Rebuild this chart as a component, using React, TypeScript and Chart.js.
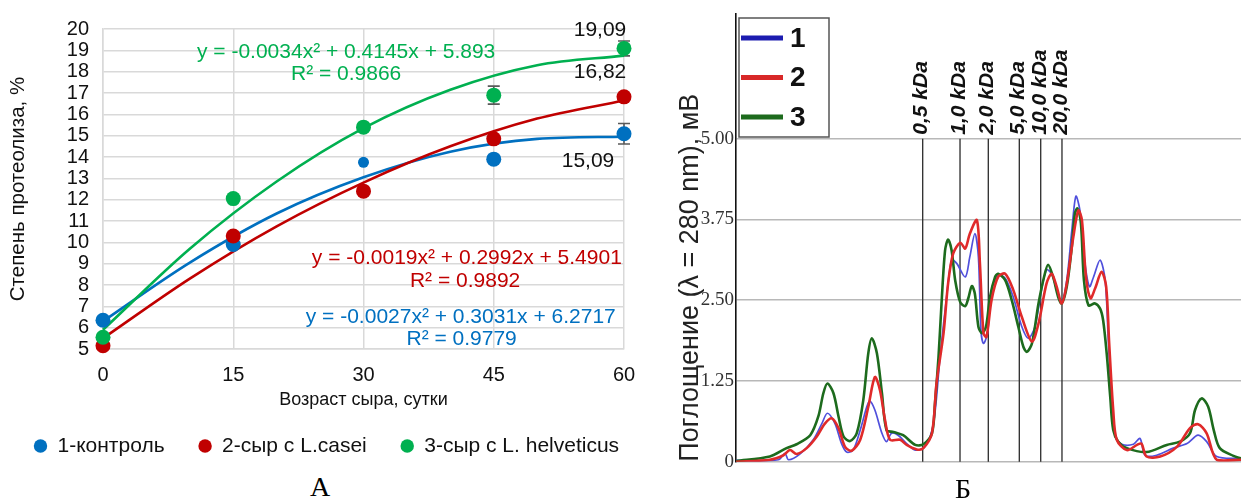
import React, { useEffect, useRef } from "react";
import { Chart, registerables } from "chart.js";

Chart.register(...registerables);
Chart.defaults.font.family = '"Liberation Sans", Arial, sans-serif';

// ---------- Chart A: degree of proteolysis ----------
const DAYS = [0, 15, 30, 45, 60];
const CONTROL = [6.35, 9.9, 13.75, 13.9, 15.09];
const CASEI = [5.15, 10.3, 12.4, 14.85, 16.82];
const HELVETICUS = [5.55, 12.05, 15.4, 16.9, 19.09];
const CONTROL_ERR = [0, 0, 0, 0, 0.48];
const CASEI_ERR = [0, 0, 0, 0, 0];
const HELVETICUS_ERR = [0, 0, 0, 0.42, 0.35];
const TREND_X = [0, 10, 20, 30, 40, 50, 60];
const CONTROL_TREND = [6.3, 9.05, 11.35, 13.05, 14.25, 14.85, 14.95];
const CASEI_TREND = [5.5, 8.3, 10.75, 12.8, 14.5, 15.8, 16.65];
const HELVETICUS_TREND = [5.9, 9.7, 12.85, 15.35, 17.15, 18.3, 18.75];
const SERIES_A = ["1-контроль", "2-сыр с L.casei", "3-сыр с L. helveticus"];
const END_LABELS = ["15,09", "16,82", "19,09"];
const EQUATIONS = [
  "y = -0.0027x² + 0.3031x + 6.2717",
  "y = -0.0019x² + 0.2992x + 5.4901",
  "y = -0.0034x² + 0.4145x + 5.893",
];
const R2_LABELS = ["R² = 0.9779", "R² = 0.9892", "R² = 0.9866"];
const X_TITLE_A = "Возраст сыра, сутки";
const Y_TITLE_A = "Степень протеолиза, %";

// ---------- Chart B: chromatogram ----------
const SERIES_B = ["1", "2", "3"];
const B_Y_TICKS = [0, 1.25, 2.5, 3.75, 5];
const B_Y_TICK_LABELS = ["0", "1.25", "2.50", "3.75", "5.00"];
const KDA_LABELS = ["0,5 kDa", "1,0 kDa", "2,0 kDa", "5,0 kDa", "10,0 kDa", "20,0 kDa"];
const KDA_X = [36.97, 44.36, 49.96, 56.1, 60.34, 64.55];
const Y_TITLE_B = "Поглощение (λ = 280 nm), мВ";

const CHROM_1: [number, number][] = [
  [0, 0.02], [8.4, 0.03], [9.7, 0.13], [10.4, 0.03], [12.7, 0.12], [15.3, 0.34], [17.0, 0.59], [18.1, 0.75],
  [19.6, 0.59], [20.9, 0.28], [21.9, 0.15], [23.2, 0.18], [24.6, 0.49], [25.9, 0.85], [26.5, 0.94], [27.5, 0.8],
  [28.9, 0.44], [29.8, 0.31], [30.8, 0.44], [32.1, 0.41], [33.8, 0.28], [35.5, 0.18], [37.4, 0.23], [39.1, 0.59],
  [40.4, 1.62], [41.7, 2.55], [42.7, 3.12], [43.7, 3.07], [45.4, 2.86], [46.3, 3.17], [47.3, 3.53], [48.0, 3.17],
  [48.5, 2.04], [49.0, 1.83], [49.8, 1.99], [50.6, 2.66], [51.9, 2.89], [53.3, 2.84], [54.9, 2.55], [56.6, 2.09],
  [57.9, 1.91], [59.2, 2.09], [60.5, 2.66], [61.5, 2.97], [62.5, 2.91], [63.5, 2.66], [64.5, 2.47], [65.5, 2.81],
  [66.5, 3.58], [67.3, 4.11], [68.1, 3.89], [69.1, 3.07], [70.0, 2.71], [70.8, 2.86], [72.1, 3.12], [73.1, 2.81],
  [73.7, 1.93], [74.4, 0.9], [75.1, 0.39], [76.4, 0.27], [78.7, 0.27], [80.0, 0.36], [81.0, 0.1], [83.3, 0.1],
  [86.6, 0.21], [89.3, 0.28], [91.5, 0.41], [93.2, 0.31], [95.2, 0.08], [100, 0.05],
];
const CHROM_2: [number, number][] = [
  [0, 0.0], [6.7, 0.03], [9.4, 0.1], [10.7, 0.18], [12.0, 0.12], [14.0, 0.21], [16.0, 0.39], [17.6, 0.59],
  [19.0, 0.67], [20.3, 0.52], [21.6, 0.23], [22.9, 0.17], [24.6, 0.34], [26.2, 0.85], [27.5, 1.31], [28.5, 1.11],
  [29.5, 0.65], [30.5, 0.34], [32.5, 0.34], [33.8, 0.26], [35.8, 0.19], [37.1, 0.21], [38.8, 0.44], [39.7, 1.21],
  [41.1, 1.99], [42.0, 2.76], [43.0, 3.22], [44.4, 3.39], [45.4, 3.3], [46.3, 3.53], [47.7, 3.74], [48.3, 3.07],
  [49.0, 1.99], [49.6, 1.93], [50.6, 2.5], [51.9, 2.86], [53.3, 2.91], [54.9, 2.66], [56.6, 2.24], [58.6, 1.86],
  [59.9, 2.14], [61.5, 2.76], [62.5, 2.91], [63.5, 2.71], [64.5, 2.45], [65.5, 2.76], [66.8, 3.48], [67.8, 3.89],
  [68.5, 3.74], [69.3, 2.86], [70.2, 2.53], [71.1, 2.68], [72.4, 2.94], [73.3, 2.71], [73.9, 1.83], [74.7, 0.8],
  [75.4, 0.34], [77.4, 0.18], [79.4, 0.26], [80.3, 0.28], [81.3, 0.08], [84.0, 0.08], [87.3, 0.23], [89.9, 0.52],
  [91.5, 0.58], [93.2, 0.44], [95.2, 0.03], [100, 0.03],
];
const CHROM_3: [number, number][] = [
  [0, 0.01], [6.7, 0.08], [10.0, 0.21], [12.0, 0.27], [14.7, 0.41], [16.3, 0.7], [17.3, 1.06], [18.1, 1.21],
  [19.3, 1.06], [20.3, 0.7], [21.3, 0.39], [22.6, 0.32], [23.9, 0.44], [25.2, 0.95], [26.2, 1.68], [26.9, 1.91],
  [27.9, 1.68], [28.9, 1.06], [29.8, 0.49], [31.2, 0.46], [33.1, 0.41], [35.5, 0.26], [37.1, 0.27], [38.8, 0.44],
  [39.4, 0.9], [40.1, 1.62], [40.7, 2.45], [41.4, 3.27], [42.0, 3.44], [42.7, 3.27], [43.4, 2.81], [44.4, 2.47],
  [45.4, 2.41], [46.0, 2.53], [46.7, 2.72], [47.3, 2.6], [48.0, 2.09], [48.7, 1.99], [49.5, 2.09], [50.3, 2.55],
  [51.3, 2.86], [51.9, 2.91], [53.3, 2.81], [54.6, 2.5], [55.9, 2.09], [56.9, 1.78], [57.6, 1.7], [58.6, 1.83],
  [59.9, 2.45], [61.0, 2.86], [61.8, 3.05], [62.8, 2.86], [63.8, 2.55], [64.5, 2.45], [65.5, 2.71], [66.5, 3.33],
  [67.1, 3.84], [67.6, 3.92], [68.3, 3.69], [68.9, 2.81], [69.8, 2.42], [71.1, 2.45], [72.1, 2.37], [72.7, 2.19],
  [73.4, 1.68], [74.1, 1.01], [74.7, 0.49], [75.7, 0.31], [77.4, 0.21], [81.3, 0.15], [85.3, 0.26], [87.9, 0.31],
  [89.9, 0.44], [90.9, 0.8], [92.2, 0.98], [93.5, 0.85], [94.6, 0.49], [95.8, 0.21], [98.5, 0.09], [100, 0.05],
];

const COLORS_A = ["#0070C0", "#C00000", "#00B050"];
const COLORS_B_LINE = ["#5050dc", "#e02a2a", "#1d6b1d"];
const COLORS_B_LEGEND = ["#1c1cb0", "#d82828", "#1d6b1d"];
const SANS = '"Liberation Sans", Arial, sans-serif';
const SERIF = '"Liberation Serif", "Times New Roman", serif';

function ChartA() {
  const ref = useRef<HTMLCanvasElement>(null);
  useEffect(() => {
    if (!ref.current) return;
    const values = [CONTROL, CASEI, HELVETICUS];
    const errs = [CONTROL_ERR, CASEI_ERR, HELVETICUS_ERR];
    const trends = [CONTROL_TREND, CASEI_TREND, HELVETICUS_TREND];
    const order = [2, 1, 0];
    const pointSets = order.map((i) => ({
      label: SERIES_A[i],
      data: DAYS.map((d, j) => ({ x: d, y: values[i][j] })),
      backgroundColor: COLORS_A[i],
      borderColor: COLORS_A[i],
      pointRadius: i === 0 ? [7.5, 7.5, 5.5, 7.5, 7.5] : 7.5,
      pointBorderWidth: 0,
      pointStyle: "circle",
      showLine: false,
      clip: false,
      errors: errs[i],
    }));
    const trendSets = order.map((i) => ({
      label: "trend " + SERIES_A[i],
      data: TREND_X.map((x, j) => ({ x, y: trends[i][j] })),
      borderColor: COLORS_A[i],
      backgroundColor: COLORS_A[i],
      borderWidth: 2.6,
      pointRadius: 0,
      showLine: true,
      clip: false,
      cubicInterpolationMode: "monotone",
      fill: false,
    }));

    const errorBars = {
      id: "errorBars",
      beforeDatasetsDraw(chart: any) {
        const { ctx, scales } = chart;
        const x = scales.x, y = scales.y;
        ctx.save();
        ctx.strokeStyle = "#5a5a5a";
        ctx.lineWidth = 1.6;
        chart.data.datasets.forEach((ds: any) => {
          if (!ds.errors) return;
          ds.data.forEach((p: any, j: number) => {
            const e = ds.errors[j];
            if (!e) return;
            const px = x.getPixelForValue(p.x);
            const t = y.getPixelForValue(p.y + e);
            const b = y.getPixelForValue(p.y - e);
            ctx.beginPath();
            ctx.moveTo(px, t); ctx.lineTo(px, b);
            ctx.moveTo(px - 6, t); ctx.lineTo(px + 6, t);
            ctx.moveTo(px - 6, b); ctx.lineTo(px + 6, b);
            ctx.stroke();
          });
        });
        ctx.restore();
      },
    };

    const annotations = {
      id: "annotations",
      afterDatasetsDraw(chart: any) {
        const { ctx, scales } = chart;
        const x = scales.x, y = scales.y;
        ctx.save();
        ctx.textAlign = "center";
        ctx.textBaseline = "middle";
        ctx.font = "21px " + SANS;
        ctx.fillStyle = "#111";
        const offs = [[-36, 27], [-24, -25], [-24, -18]];
        values.forEach((s, i) => {
          const last = s.length - 1;
          ctx.fillText(END_LABELS[i], x.getPixelForValue(DAYS[last]) + offs[i][0], y.getPixelForValue(s[last]) + offs[i][1]);
        });
        const eqPos = [[41.2, 6.5, 41.3, 5.47], [41.9, 9.26, 41.7, 8.18], [28.0, 18.91, 28.0, 17.88]];
        EQUATIONS.forEach((t, i) => {
          ctx.fillStyle = COLORS_A[i];
          const p = eqPos[i];
          ctx.fillText(t, x.getPixelForValue(p[0]), y.getPixelForValue(p[1]));
          ctx.fillText(R2_LABELS[i], x.getPixelForValue(p[2]), y.getPixelForValue(p[3]));
        });
        ctx.restore();
      },
    };

    const chart = new Chart(ref.current, {
      type: "scatter",
      data: { datasets: [...pointSets, ...trendSets] as any },
      plugins: [errorBars, annotations],
      options: {
        animation: false,
        responsive: false,
        maintainAspectRatio: false,
        layout: { padding: { top: 29, right: 0, bottom: 3.5, left: 0 } },
        plugins: {
          tooltip: { enabled: false },
          legend: {
            position: "bottom",
            align: "start",
            labels: {
              usePointStyle: true,
              pointStyle: "circle",
              boxWidth: 13,
              boxHeight: 9.5,
              padding: 34,
              color: "#111",
              font: { size: 21, family: SANS },
              filter: (item: any) => item.datasetIndex < 3,
              sort: (a: any, b: any) => b.datasetIndex - a.datasetIndex,
            },
          },
        },
        scales: {
          x: {
            type: "linear",
            min: 0,
            max: 60,
            afterFit: (s: any) => { s.height = 52.5; },
            ticks: { stepSize: 15, color: "#111", font: { size: 20, family: SANS }, padding: 14 },
            grid: { color: "#d9d9d9", lineWidth: 1.5, drawTicks: false },
            border: { color: "#d9d9d9", width: 1.5 },
            title: { display: true, text: X_TITLE_A, color: "#111", font: { size: 18, family: SANS }, padding: { top: 0, bottom: -9.5 } },
          },
          y: {
            type: "linear",
            min: 5,
            max: 20,
            afterFit: (s: any) => { s.width = 103; },
            ticks: { stepSize: 1, autoSkip: false, color: "#111", font: { size: 20, family: SANS }, padding: 14 },
            grid: { color: "#d9d9d9", lineWidth: 1.5, drawTicks: false },
            border: { color: "#d9d9d9", width: 1.5 },
            title: { display: true, text: Y_TITLE_A, color: "#111", font: { size: 20.5, family: SANS }, padding: { top: 6, bottom: 0 } },
          },
          yR: {
            type: "linear",
            position: "right",
            display: true,
            afterFit: (s: any) => { s.width = 56; },
            ticks: { display: false },
            grid: { display: false, drawTicks: false },
            border: { display: false },
          },
        },
      } as any,
    });
    return () => chart.destroy();
  }, []);
  return (
    <canvas ref={ref} width={680} height={470}
      style={{ position: "absolute", left: 0, top: 0, width: 680, height: 470 }} />
  );
}

function ChartB() {
  const ref = useRef<HTMLCanvasElement>(null);
  useEffect(() => {
    if (!ref.current) return;
    const series = [CHROM_2, CHROM_3, CHROM_1];
    const idx = [1, 2, 0];
    const datasets = series.map((s, k) => {
      const i = idx[k];
      return {
        label: SERIES_B[i],
        data: s.map(([x, y]) => ({ x, y })),
        borderColor: COLORS_B_LINE[i],
        backgroundColor: COLORS_B_LINE[i],
        borderWidth: i === 0 ? 1.7 : 2.6,
        pointRadius: 0,
        showLine: true,
        tension: 0.3,
        fill: false,
      };
    });

    const kda = {
      id: "kda",
      beforeDatasetsDraw(chart: any) {
        const { ctx, scales } = chart;
        const x = scales.x, y = scales.y;
        ctx.save();
        ctx.strokeStyle = "#2a2a2a";
        ctx.lineWidth = 1.3;
        const top = y.getPixelForValue(5);
        const bot = y.getPixelForValue(0);
        KDA_X.forEach((v) => {
          const px = x.getPixelForValue(v);
          ctx.beginPath(); ctx.moveTo(px, top); ctx.lineTo(px, bot); ctx.stroke();
        });
        ctx.restore();
      },
      afterDraw(chart: any) {
        const { ctx, scales, chartArea } = chart;
        const x = scales.x, y = scales.y;
        ctx.save();
        ctx.font = "italic bold 21px " + SANS;
        ctx.fillStyle = "#111";
        ctx.textAlign = "left";
        ctx.textBaseline = "middle";
        const top = y.getPixelForValue(5);
        KDA_X.forEach((v, i) => {
          ctx.save();
          ctx.translate(x.getPixelForValue(v) - 1, top - 4);
          ctx.rotate(-Math.PI / 2);
          ctx.fillText(KDA_LABELS[i], 0, 0);
          ctx.restore();
        });
        // legend box
        const left = chartArea.left + 3, bt = 18, w = 90, h = 119;
        ctx.fillStyle = "#fff";
        ctx.fillRect(left, bt, w, h);
        ctx.strokeStyle = "#555";
        ctx.lineWidth = 1.5;
        ctx.strokeRect(left, bt, w, h);
        ctx.font = 'bold 28px "Liberation Sans Narrow", "Liberation Sans", Arial, sans-serif';
        SERIES_B.forEach((name, i) => {
          const yy = bt + 20 + i * 39.5;
          ctx.strokeStyle = COLORS_B_LEGEND[i];
          ctx.lineWidth = 5;
          ctx.beginPath(); ctx.moveTo(left + 2, yy); ctx.lineTo(left + 44, yy); ctx.stroke();
          ctx.fillStyle = "#111";
          ctx.fillText(name, left + 51, yy + 1);
        });
        ctx.restore();
      },
    };

    const chart = new Chart(ref.current, {
      type: "scatter",
      data: { datasets: datasets as any },
      plugins: [kda],
      options: {
        animation: false,
        responsive: false,
        maintainAspectRatio: false,
        layout: { padding: { top: 13, right: 0, bottom: 39.3, left: 0 } },
        plugins: { legend: { display: false }, tooltip: { enabled: false } },
        scales: {
          x: { type: "linear", min: 0, max: 100, display: false },
          y: {
            type: "linear",
            min: 0,
            max: 6.94,
            afterBuildTicks: (s: any) => { s.ticks = B_Y_TICKS.map((v) => ({ value: v })); },
            afterFit: (s: any) => { s.width = 76; },
            ticks: {
              callback: (v: any) => { const k = B_Y_TICKS.indexOf(Number(v)); return k >= 0 ? B_Y_TICK_LABELS[k] : ""; },
              color: "#333",
              font: { size: 19, family: SERIF },
              padding: 2,
            },
            grid: { color: "#b8b8b8", lineWidth: 1.6, drawTicks: false },
            border: { color: "#111", width: 1.6 },
            title: {
              display: true,
              text: Y_TITLE_B,
              align: "start",
              color: "#222",
              font: { size: 27, family: SANS },
              padding: { top: 14, bottom: 0 },
            },
          },
        },
      } as any,
    });
    return () => chart.destroy();
  }, []);
  return (
    <canvas ref={ref} width={581} height={501}
      style={{ position: "absolute", left: 660, top: 0, width: 581, height: 501 }} />
  );
}

export default function App() {
  return (
    <div style={{ position: "absolute", left: 0, top: 0, width: 1241, height: 501, background: "#fff", overflow: "hidden" }}>
      <ChartB />
      <ChartA />
      <div style={{ position: "absolute", left: 290, top: 470, width: 60, textAlign: "center", font: "28px " + SERIF, lineHeight: "34px", color: "#000" }}>А</div>
      <div style={{ position: "absolute", left: 933, top: 472, width: 60, textAlign: "center", font: "28px " + SERIF, lineHeight: "34px", color: "#000" }}>Б</div>
    </div>
  );
}
